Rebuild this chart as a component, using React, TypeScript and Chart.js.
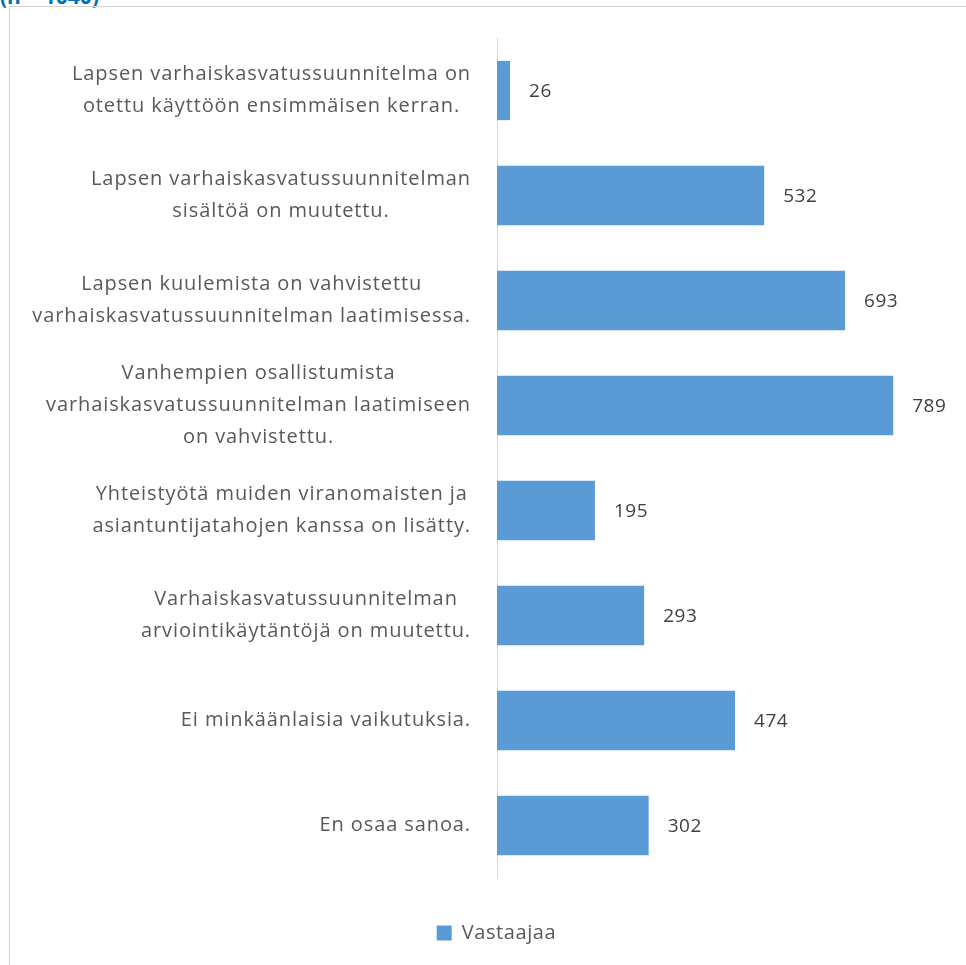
import React, { useEffect, useRef } from "react";
import { Chart, registerables } from "chart.js";

Chart.register(...registerables);

const categories: string[][] = [
  ["Lapsen varhaiskasvatussuunnitelma on", "otettu käyttöön ensimmäisen kerran."],
  ["Lapsen varhaiskasvatussuunnitelman", "sisältöä on muutettu."],
  ["Lapsen kuulemista on vahvistettu", "varhaiskasvatussuunnitelman laatimisessa."],
  ["Vanhempien osallistumista", "varhaiskasvatussuunnitelman laatimiseen", "on vahvistettu."],
  ["Yhteistyötä muiden viranomaisten ja", "asiantuntijatahojen kanssa on lisätty."],
  ["Varhaiskasvatussuunnitelman", "arviointikäytäntöjä on muutettu."],
  ["Ei minkäänlaisia vaikutuksia."],
  ["En osaa sanoa."],
];
const values: number[] = [26, 532, 693, 789, 195, 293, 474, 302];
const seriesName = "Vastaajaa";
const titleText = "(n = 1040)";

const FONT = "'Open Sans', sans-serif";

const spacingPlugin = {
  id: "letterSpacing",
  beforeUpdate(chart: any) {
    chart.ctx.letterSpacing = "0.6px";
  },
  beforeDraw(chart: any) {
    chart.ctx.letterSpacing = "0.6px";
  },
};

const labelPlugin = {
  id: "customLabels",
  afterDraw(chart: any) {
    const ctx = chart.ctx;
    const yScale = chart.scales.y;
    const meta = chart.getDatasetMeta(0);
    ctx.save();
    // category labels: block right-aligned, lines centered within block
    ctx.font = `20px ${FONT}`;
    ctx.letterSpacing = "0.9px";
    ctx.fillStyle = "#595959";
    ctx.textBaseline = "middle";
    ctx.textAlign = "center";
    const lineH = 32;
    const rightEdge = chart.chartArea.left - 26;
    categories.forEach((lines, i) => {
      const w = Math.max(...lines.map((l) => ctx.measureText(l).width));
      const cx = rightEdge - w / 2;
      const cy = yScale.getPixelForValue(i);
      const n = lines.length;
      lines.forEach((l, j) => {
        ctx.fillText(l, cx, cy + (j - (n - 1) / 2) * lineH);
      });
    });
    // value labels
    ctx.font = `19px ${FONT}`;
    ctx.letterSpacing = "0.5px";
    ctx.fillStyle = "#404040";
    ctx.textAlign = "left";
    meta.data.forEach((bar: any, i: number) => {
      ctx.fillText(String(values[i]), bar.x + 19, bar.y + 1);
    });
    ctx.restore();
  },
};

export default function App() {
  const ref = useRef<HTMLCanvasElement | null>(null);
  useEffect(() => {
    if (!ref.current) return;
    const chart = new Chart(ref.current, {
      type: "bar",
      data: {
        labels: categories.map((c) => c.join(" ")),
        datasets: [
          {
            label: seriesName,
            data: values,
            backgroundColor: "#5B9BD5",
            borderWidth: 0,
            categoryPercentage: 0.565,
            barPercentage: 1,
          },
        ],
      },
      options: {
        indexAxis: "y",
        responsive: false,
        animation: false,
        layout: { padding: { left: 27, right: 0, top: 38, bottom: 12 } },
        scales: {
          x: {
            min: 0,
            max: 900,
            display: true,
            grid: { display: false },
            border: { display: false },
            ticks: { display: false },
            afterFit: (s: any) => {
              s.height = 35;
            },
          },
          y: {
            display: true,
            grid: { display: false },
            border: { display: true, color: "#d9d9d9", width: 1 },
            ticks: { display: false },
            afterFit: (s: any) => {
              s.width = 470;
            },
          },
          yRight: {
            type: "category",
            position: "right",
            display: true,
            grid: { display: false },
            border: { display: false },
            ticks: { display: false },
            afterFit: (s: any) => {
              s.width = 17;
            },
          },
        },
        plugins: {
          legend: {
            position: "bottom",
            labels: {
              font: { family: FONT, size: 20 },
              color: "#595959",
              boxWidth: 15,
              boxHeight: 15,
              padding: 10,
            },
          },
          tooltip: { enabled: false },
        },
      },
      plugins: [spacingPlugin, labelPlugin],
    });
    return () => chart.destroy();
  }, []);

  return (
    <div
      style={{
        position: "fixed",
        left: 0,
        top: 0,
        width: 966,
        height: 965,
        overflow: "hidden",
        background: "#fff",
      }}
    >
      <div
        style={{
          position: "absolute",
          left: 0,
          top: -14,
          fontFamily: FONT,
          fontWeight: 700,
          fontSize: 21,
          lineHeight: "21px",
          color: "#0070C0",
          whiteSpace: "nowrap",
        }}
      >
        {titleText}
      </div>
      <div
        style={{
          position: "absolute",
          left: 9,
          top: 6,
          width: 1000,
          height: 1000,
          border: "1px solid #d4d4d4",
        }}
      />
      <canvas
        ref={ref}
        width={966}
        height={965}
        style={{ position: "absolute", left: 0, top: 0 }}
      />
    </div>
  );
}
